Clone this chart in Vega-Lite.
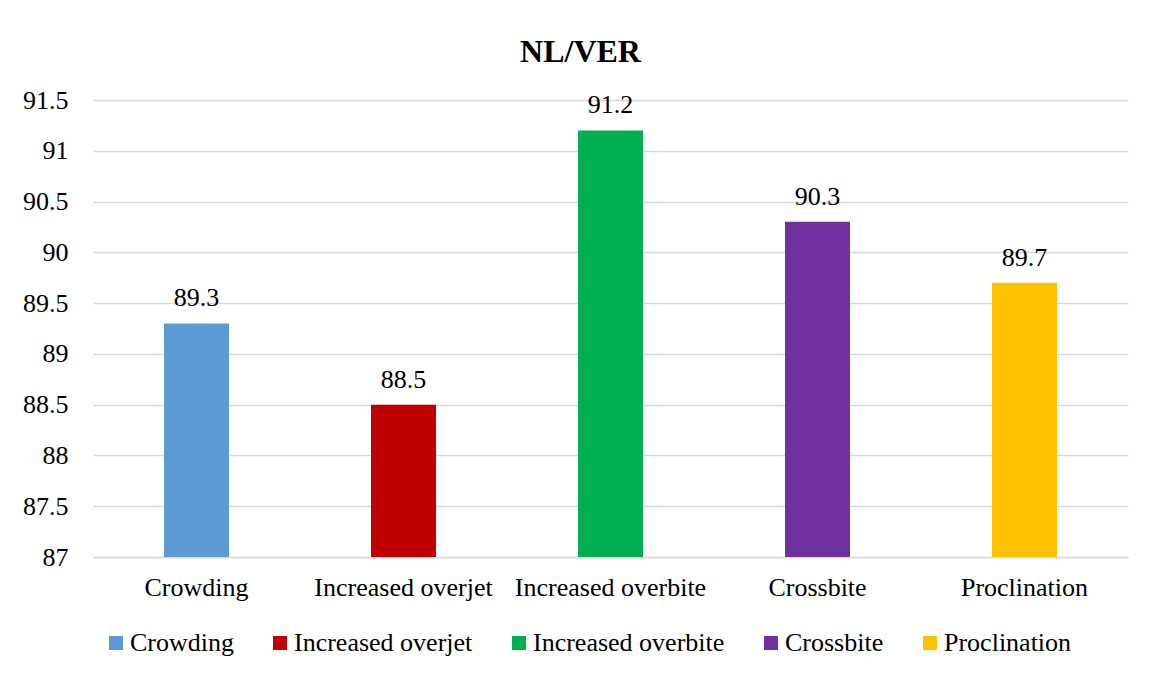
{
  "$schema": "https://vega.github.io/schema/vega-lite/v6.json",
  "autosize": {"type": "none"},
  "width": 1035,
  "height": 457,
  "padding": {"left": 93, "top": 100, "right": 29, "bottom": 117},
  "background": "white",
  "config": {
    "font": "Liberation Serif",
    "view": {"stroke": null}
  },
  "title": {
    "text": "NL/VER",
    "font": "Liberation Serif",
    "fontSize": 32,
    "fontWeight": "bold",
    "color": "#000000",
    "anchor": "middle",
    "frame": "group",
    "baseline": "alphabetic",
    "dx": -30,
    "offset": -7
  },
  "data": {
    "values": [
      {"group": "Crowding", "value": 89.3},
      {"group": "Increased overjet", "value": 88.5},
      {"group": "Increased overbite", "value": 91.2},
      {"group": "Crossbite", "value": 90.3},
      {"group": "Proclination", "value": 89.7}
    ]
  },
  "encoding": {
    "x": {
      "field": "group",
      "type": "nominal",
      "sort": null,
      "scale": {"paddingInner": 0.686, "paddingOuter": 0.343},
      "axis": {
        "title": null,
        "labelAngle": 0,
        "labelFont": "Liberation Serif",
        "labelFontSize": 26,
        "labelColor": "#000000",
        "labelPadding": 17,
        "labelLimit": 400,
        "ticks": false,
        "domainColor": "#d9d9d9",
        "domainWidth": 1.5
      }
    }
  },
  "layer": [
    {
      "mark": {"type": "bar"},
      "encoding": {
        "y": {
          "field": "value",
          "type": "quantitative",
          "scale": {"domain": [87, 91.5], "nice": false, "zero": false},
          "axis": {
            "title": null,
            "values": [87, 87.5, 88, 88.5, 89, 89.5, 90, 90.5, 91, 91.5],
            "format": ".1~f",
            "labelFont": "Liberation Serif",
            "labelFontSize": 26,
            "labelColor": "#000000",
            "labelPadding": 25,
            "ticks": false,
            "domain": false,
            "grid": true,
            "gridColor": "#d9d9d9",
            "gridWidth": 1.5
          }
        },
        "y2": {"datum": 87},
        "color": {
          "field": "group",
          "type": "nominal",
          "sort": null,
          "scale": {
            "domain": ["Crowding", "Increased overjet", "Increased overbite", "Crossbite", "Proclination"],
            "range": ["#5b9bd5", "#c00000", "#00b050", "#7030a0", "#ffc000"]
          },
          "legend": {
            "title": null,
            "orient": "none",
            "direction": "horizontal",
            "columns": 5,
            "legendX": 10,
            "legendY": 530,
            "symbolType": "square",
            "symbolSize": 196,
            "symbolStrokeWidth": 0,
            "symbolOpacity": 1,
            "labelFont": "Liberation Serif",
            "labelFontSize": 26,
            "labelColor": "#000000",
            "labelOffset": 1,
            "columnPadding": 33,
            "labelLimit": 400
          }
        }
      }
    },
    {
      "mark": {
        "type": "text",
        "font": "Liberation Serif",
        "fontSize": 26,
        "color": "#000000",
        "baseline": "alphabetic",
        "dy": -17
      },
      "encoding": {
        "y": {"field": "value", "type": "quantitative"},
        "text": {"field": "value", "type": "quantitative", "format": ".1f"}
      }
    }
  ]
}
